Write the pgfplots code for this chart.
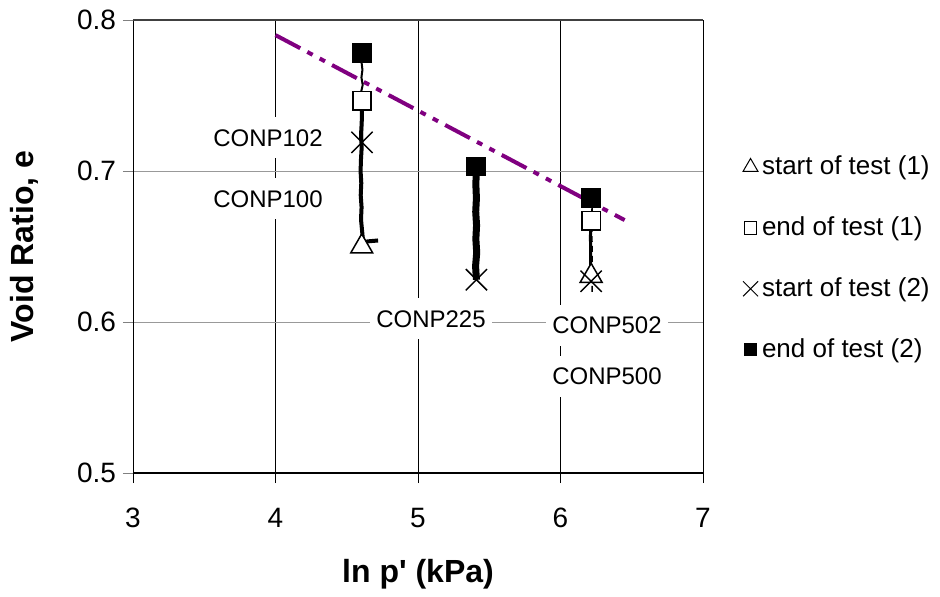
\documentclass[border=0pt]{standalone}
\usepackage{pgfplots}
\pgfplotsset{compat=1.18}
\usepackage{fontspec}
\setmainfont{Liberation Sans}
\definecolor{cslpurple}{RGB}{128,0,128}
\begin{document}
\begin{tikzpicture}
\useasboundingbox (-66.5pt,-61.5pt) rectangle (403.5pt,236.5pt);
\begin{axis}[
  at={(0pt,0pt)}, anchor=south west,
  scale only axis, width=285pt, height=226.5pt,
  xmin=3, xmax=7, ymin=0.5, ymax=0.8,
  xtick={3,4,5,6,7}, ytick={0.5,0.6,0.7,0.8},
  /pgf/number format/assume math mode=true,
  yticklabel style={/pgf/number format/.cd, fixed, fixed zerofill, precision=1},
  xticklabel style={yshift=-9pt},
  tick label style={font=\fontsize{14}{16}\selectfont},
  xtick pos=bottom, ytick pos=left,
  tick align=outside, major tick length=5pt,
  x tick style={black, line width=0.5pt},
  y tick style={gray, line width=0.5pt},
  grid=major,
  x grid style={black, line width=0.5pt},
  y grid style={gray!80, line width=0.5pt},
  axis line style={black, line width=0.5pt},
  xlabel={\textbf{ln p\textquotesingle{} (kPa)}},
  ylabel={\textbf{Void Ratio, e}},
  label style={font=\fontsize{16}{19}\selectfont},
  xlabel style={at={(axis description cs:0.5,-0.223)}, anchor=center},
  ylabel style={at={(axis description cs:-0.19,0.5)}, anchor=center},
  legend style={at={(axis description cs:1.059,0.718)}, anchor=north west, draw=none, fill=none,
    font=\fontsize{13}{15}\selectfont, row sep=15.5pt, cells={anchor=west},
    nodes={inner sep=2pt}},
  legend image code/.code={\draw[#1,mark repeat=1] plot coordinates {(0pt,0pt)};},
]
% critical state style line
\addplot[forget plot, cslpurple, line width=2pt, dash pattern=on 14pt off 4pt on 3pt off 4pt on 3pt off 4pt] coordinates {(4,0.790) (6.45,0.6675)};
% CONP100 (test 1)
\addplot[forget plot, black, line width=2pt, line join=round] coordinates {
(4.72,0.654) (4.66,0.6535) (4.615,0.653) (4.608,0.660) (4.600,0.668) (4.604,0.676) (4.598,0.684)
(4.602,0.692) (4.597,0.700) (4.600,0.708) (4.605,0.716) (4.600,0.724) (4.605,0.732) (4.607,0.740) (4.607,0.7464)};
% CONP102 (test 2)
\addplot[forget plot, black, line width=1pt, line join=round] coordinates {
(4.607,0.719) (4.607,0.747) (4.600,0.752) (4.612,0.757) (4.603,0.762) (4.610,0.767) (4.604,0.772) (4.607,0.778)};
% CONP225
\addplot[forget plot, black, line width=3.5pt, line join=round] coordinates {
(5.410,0.628) (5.404,0.637) (5.412,0.646) (5.406,0.655) (5.411,0.664) (5.405,0.673) (5.410,0.682) (5.406,0.691) (5.410,0.703)};
% CONP500 (test 1)
\addplot[forget plot, black, line width=1.5pt] coordinates {(6.210,0.6305) (6.212,0.645) (6.210,0.656) (6.213,0.667)};
% CONP502 (test 2)
\addplot[forget plot, black, line width=0.8pt, densely dashed] coordinates {(6.222,0.620) (6.222,0.640) (6.220,0.660) (6.222,0.682)};
% markers
\addplot[only marks, mark=triangle*, mark size=6.3pt, mark options={fill=white, draw=black, line width=0.75pt},
  legend image post style={mark size=4.3pt, mark options={fill=white, draw=black, line width=0.5pt}}]
  coordinates {(4.605,0.650) (6.215,0.6305)};
\addlegendentry{start of test (1)}
\addplot[only marks, mark=square*, mark size=4.6pt, mark options={fill=white, draw=black, line width=0.75pt},
  legend image post style={mark size=3.2pt, mark options={fill=white, draw=black, line width=0.5pt}}]
  coordinates {(4.607,0.7464) (6.215,0.667)};
\addlegendentry{end of test (1)}
\addplot[only marks, mark=x, mark size=7.5pt, mark options={draw=black, line width=0.75pt},
  legend image post style={mark size=5.3pt, mark options={draw=black, line width=0.5pt}}]
  coordinates {(4.607,0.719) (5.410,0.628) (6.215,0.627)};
\addlegendentry{start of test (2)}
\addplot[only marks, mark=square*, mark size=4.6pt, mark options={fill=black, draw=black, line width=0.75pt},
  legend image post style={mark size=3.2pt, mark options={fill=black, draw=black, line width=0.5pt}}]
  coordinates {(4.607,0.778) (5.410,0.703) (6.215,0.682)};
\addlegendentry{end of test (2)}
% labels
\node[fill=white, inner xsep=3pt, inner ysep=6pt, font=\fontsize{12}{14}\selectfont] at (axis cs:3.947,0.7219) {CONP102};
\node[fill=white, inner xsep=3pt, inner ysep=6pt, font=\fontsize{12}{14}\selectfont] at (axis cs:3.947,0.6815) {CONP100};
\node[fill=white, inner xsep=3pt, inner ysep=6pt, font=\fontsize{12}{14}\selectfont] at (axis cs:5.091,0.602) {CONP225};
\node[fill=white, inner xsep=3pt, inner ysep=6pt, font=\fontsize{12}{14}\selectfont] at (axis cs:6.326,0.598) {CONP502};
\node[fill=white, inner xsep=3pt, inner ysep=6pt, font=\fontsize{12}{14}\selectfont] at (axis cs:6.326,0.564) {CONP500};
\end{axis}
\draw[black, line width=1.2pt] (0pt,0pt) -- (285pt,0pt);
\draw[black!75, line width=1pt] (0pt,226.5pt) -- (285pt,226.5pt);
\end{tikzpicture}
\end{document}
